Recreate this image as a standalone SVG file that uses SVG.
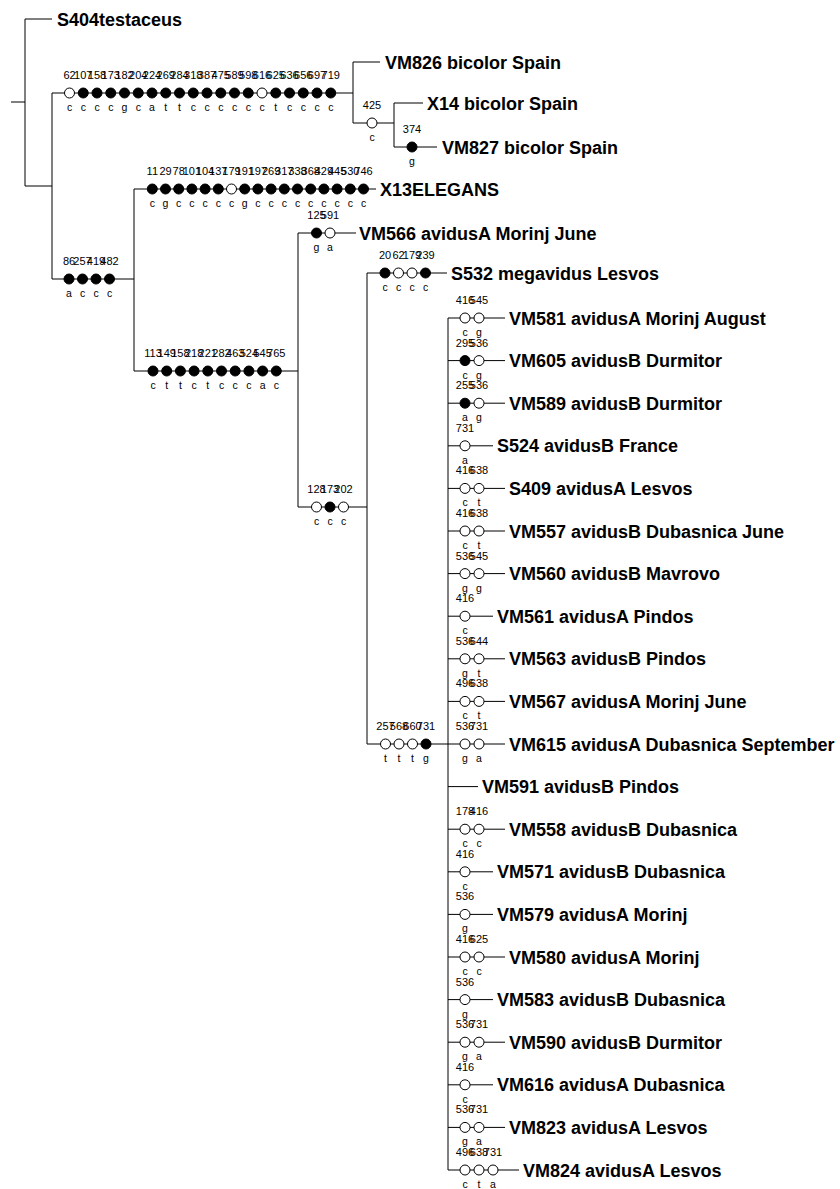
<svg xmlns="http://www.w3.org/2000/svg" width="840" height="1189" viewBox="0 0 840 1189">
<style>
.ln{stroke:#000;stroke-width:1;fill:none}
.o{fill:#fff;stroke:#000;stroke-width:1}
.f{fill:#000;stroke:#000;stroke-width:1}
.n{font-family:"Liberation Sans",Arial,sans-serif;font-size:11px;text-anchor:middle;fill:#000}
.s{font-family:"Liberation Sans",Arial,sans-serif;font-size:10.5px;text-anchor:middle;fill:#000}
.lb{font-family:"Liberation Sans",Arial,sans-serif;font-size:18px;font-weight:bold;fill:#000}
</style>
<rect width="840" height="1189" fill="#fff"/>
<g id="connectors" class="ln">
<path d="M11 102H25M25 19V186M25 19H52M25 186H52M52 93V279M52 93H353M353 62V123M353 62H380M353 123H394M394 103V147M394 103H423M394 147H437"/>
<path d="M52 279H134M134 189V371M134 189H376M134 371H298M298 233V507M298 233H356M298 507H367M367 273V744M367 273H447M367 744H448M448 318V1170"/>
<path d="M448 318H505M448 360.6H505M448 403.2H505M448 445.8H493M448 488.4H505M448 531H505M448 573.6H505M448 616.2H493M448 658.8H505M448 701.4H505M448 744H505M448 786.6H478M448 829.2H505M448 871.8H493M448 914.4H493M448 957H505M448 999.6H493M448 1042.2H505M448 1084.8H493M448 1127.4H505M448 1170H519"/>
</g>
<g id="S404testaceus"><text class="lb" x="57" y="25.5">S404testaceus</text></g>
<g id="br-bicolor">
<circle class="o" cx="69.5" cy="93" r="5"/><circle class="f" cx="83.25" cy="93" r="5"/><circle class="f" cx="97" cy="93" r="5"/><circle class="f" cx="110.75" cy="93" r="5"/><circle class="f" cx="124.5" cy="93" r="5"/><circle class="f" cx="138.25" cy="93" r="5"/><circle class="f" cx="152" cy="93" r="5"/><circle class="f" cx="165.75" cy="93" r="5"/><circle class="f" cx="179.5" cy="93" r="5"/><circle class="f" cx="193.25" cy="93" r="5"/><circle class="f" cx="207" cy="93" r="5"/><circle class="f" cx="220.75" cy="93" r="5"/><circle class="f" cx="234.5" cy="93" r="5"/><circle class="f" cx="248.25" cy="93" r="5"/><circle class="o" cx="262" cy="93" r="5"/><circle class="f" cx="275.75" cy="93" r="5"/><circle class="f" cx="289.5" cy="93" r="5"/><circle class="f" cx="303.25" cy="93" r="5"/><circle class="f" cx="317" cy="93" r="5"/><circle class="f" cx="330.75" cy="93" r="5"/>
<text class="n" y="79"><tspan x="69.5">62</tspan><tspan x="83.25">107</tspan><tspan x="97">158</tspan><tspan x="110.75">173</tspan><tspan x="124.5">182</tspan><tspan x="138.25">204</tspan><tspan x="152">224</tspan><tspan x="165.75">269</tspan><tspan x="179.5">284</tspan><tspan x="193.25">318</tspan><tspan x="207">387</tspan><tspan x="220.75">475</tspan><tspan x="234.5">589</tspan><tspan x="248.25">598</tspan><tspan x="262">616</tspan><tspan x="275.75">625</tspan><tspan x="289.5">636</tspan><tspan x="303.25">656</tspan><tspan x="317">697</tspan><tspan x="330.75">719</tspan></text>
<text class="s" y="111"><tspan x="69.5">c</tspan><tspan x="83.25">c</tspan><tspan x="97">c</tspan><tspan x="110.75">c</tspan><tspan x="124.5">g</tspan><tspan x="138.25">c</tspan><tspan x="152">a</tspan><tspan x="165.75">t</tspan><tspan x="179.5">t</tspan><tspan x="193.25">c</tspan><tspan x="207">c</tspan><tspan x="220.75">c</tspan><tspan x="234.5">c</tspan><tspan x="248.25">c</tspan><tspan x="262">c</tspan><tspan x="275.75">t</tspan><tspan x="289.5">c</tspan><tspan x="303.25">c</tspan><tspan x="317">c</tspan><tspan x="330.75">c</tspan></text>
</g>
<g id="VM826"><text class="lb" x="385" y="68.5">VM826 bicolor Spain</text></g>
<g id="br-425"><circle class="o" cx="372" cy="123" r="5"/><text class="n" x="372" y="109">425</text><text class="s" x="372" y="141">c</text></g>
<g id="X14"><text class="lb" x="427" y="109.5">X14 bicolor Spain</text></g>
<g id="VM827"><circle class="f" cx="412" cy="147" r="5"/><text class="n" x="412" y="133">374</text><text class="s" x="412" y="165">g</text><text class="lb" x="442" y="153.5">VM827 bicolor Spain</text></g>
<g id="X13ELEGANS">
<circle class="f" cx="152.3" cy="189" r="5"/><circle class="f" cx="165.5" cy="189" r="5"/><circle class="f" cx="178.7" cy="189" r="5"/><circle class="f" cx="191.9" cy="189" r="5"/><circle class="f" cx="205.1" cy="189" r="5"/><circle class="f" cx="218.3" cy="189" r="5"/><circle class="o" cx="231.5" cy="189" r="5"/><circle class="f" cx="244.7" cy="189" r="5"/><circle class="f" cx="257.9" cy="189" r="5"/><circle class="f" cx="271.1" cy="189" r="5"/><circle class="f" cx="284.3" cy="189" r="5"/><circle class="f" cx="297.5" cy="189" r="5"/><circle class="f" cx="310.7" cy="189" r="5"/><circle class="f" cx="323.9" cy="189" r="5"/><circle class="f" cx="337.1" cy="189" r="5"/><circle class="f" cx="350.3" cy="189" r="5"/><circle class="f" cx="363.5" cy="189" r="5"/>
<text class="n" y="175"><tspan x="152.3">11</tspan><tspan x="165.5">29</tspan><tspan x="178.7">78</tspan><tspan x="191.9">101</tspan><tspan x="205.1">104</tspan><tspan x="218.3">137</tspan><tspan x="231.5">179</tspan><tspan x="244.7">191</tspan><tspan x="257.9">197</tspan><tspan x="271.1">269</tspan><tspan x="284.3">317</tspan><tspan x="297.5">338</tspan><tspan x="310.7">368</tspan><tspan x="323.9">429</tspan><tspan x="337.1">445</tspan><tspan x="350.3">530</tspan><tspan x="363.5">746</tspan></text>
<text class="s" y="207"><tspan x="152.3">c</tspan><tspan x="165.5">g</tspan><tspan x="178.7">c</tspan><tspan x="191.9">c</tspan><tspan x="205.1">c</tspan><tspan x="218.3">c</tspan><tspan x="231.5">c</tspan><tspan x="244.7">g</tspan><tspan x="257.9">c</tspan><tspan x="271.1">c</tspan><tspan x="284.3">c</tspan><tspan x="297.5">c</tspan><tspan x="310.7">c</tspan><tspan x="323.9">c</tspan><tspan x="337.1">c</tspan><tspan x="350.3">c</tspan><tspan x="363.5">c</tspan></text>
<text class="lb" x="380" y="195.5">X13ELEGANS</text>
</g>
<g id="br-86">
<circle class="f" cx="69" cy="279" r="5"/><circle class="f" cx="82.5" cy="279" r="5"/><circle class="f" cx="96" cy="279" r="5"/><circle class="f" cx="109.5" cy="279" r="5"/>
<text class="n" y="265"><tspan x="69">86</tspan><tspan x="82.5">257</tspan><tspan x="96">419</tspan><tspan x="109.5">482</tspan></text>
<text class="s" y="297"><tspan x="69">a</tspan><tspan x="82.5">c</tspan><tspan x="96">c</tspan><tspan x="109.5">c</tspan></text>
</g>
<g id="br-113">
<circle class="f" cx="153" cy="371" r="5"/><circle class="f" cx="166.7" cy="371" r="5"/><circle class="f" cx="180.4" cy="371" r="5"/><circle class="f" cx="194.1" cy="371" r="5"/><circle class="f" cx="207.8" cy="371" r="5"/><circle class="f" cx="221.5" cy="371" r="5"/><circle class="f" cx="235.2" cy="371" r="5"/><circle class="f" cx="248.9" cy="371" r="5"/><circle class="f" cx="262.6" cy="371" r="5"/><circle class="f" cx="276.3" cy="371" r="5"/>
<text class="n" y="357"><tspan x="153">113</tspan><tspan x="166.7">149</tspan><tspan x="180.4">158</tspan><tspan x="194.1">218</tspan><tspan x="207.8">221</tspan><tspan x="221.5">282</tspan><tspan x="235.2">463</tspan><tspan x="248.9">524</tspan><tspan x="262.6">545</tspan><tspan x="276.3">765</tspan></text>
<text class="s" y="389"><tspan x="153">c</tspan><tspan x="166.7">t</tspan><tspan x="180.4">t</tspan><tspan x="194.1">c</tspan><tspan x="207.8">t</tspan><tspan x="221.5">c</tspan><tspan x="235.2">c</tspan><tspan x="248.9">c</tspan><tspan x="262.6">a</tspan><tspan x="276.3">c</tspan></text>
</g>
<g id="VM566">
<circle class="f" cx="316.5" cy="233" r="5"/><circle class="o" cx="330" cy="233" r="5"/>
<text class="n" y="219"><tspan x="316.5">125</tspan><tspan x="330">591</tspan></text>
<text class="s" y="251"><tspan x="316.5">g</tspan><tspan x="330">a</tspan></text>
<text class="lb" x="359" y="239.5">VM566 avidusA Morinj June</text>
</g>
<g id="br-128">
<circle class="o" cx="316.5" cy="507" r="5"/><circle class="f" cx="330" cy="507" r="5"/><circle class="o" cx="343.5" cy="507" r="5"/>
<text class="n" y="493"><tspan x="316.5">128</tspan><tspan x="330">173</tspan><tspan x="343.5">202</tspan></text>
<text class="s" y="525"><tspan x="316.5">c</tspan><tspan x="330">c</tspan><tspan x="343.5">c</tspan></text>
</g>
<g id="S532">
<circle class="f" cx="385" cy="273" r="5"/><circle class="o" cx="398.5" cy="273" r="5"/><circle class="o" cx="412" cy="273" r="5"/><circle class="f" cx="425.5" cy="273" r="5"/>
<text class="n" y="259"><tspan x="385">20</tspan><tspan x="398.5">62</tspan><tspan x="412">179</tspan><tspan x="425.5">239</tspan></text>
<text class="s" y="291"><tspan x="385">c</tspan><tspan x="398.5">c</tspan><tspan x="412">c</tspan><tspan x="425.5">c</tspan></text>
<text class="lb" x="451" y="279.5">S532 megavidus Lesvos</text>
</g>
<g id="br-257">
<circle class="o" cx="385.5" cy="744" r="5"/><circle class="o" cx="399" cy="744" r="5"/><circle class="o" cx="412.5" cy="744" r="5"/><circle class="f" cx="426" cy="744" r="5"/>
<text class="n" y="730"><tspan x="385.5">257</tspan><tspan x="399">568</tspan><tspan x="412.5">660</tspan><tspan x="426">731</tspan></text>
<text class="s" y="762"><tspan x="385.5">t</tspan><tspan x="399">t</tspan><tspan x="412.5">t</tspan><tspan x="426">g</tspan></text>
</g>
<g id="VM581"><circle class="o" cx="465" cy="318" r="5"/><circle class="o" cx="479" cy="318" r="5"/><text class="n" y="304"><tspan x="465">416</tspan><tspan x="479">545</tspan></text><text class="s" y="336"><tspan x="465">c</tspan><tspan x="479">g</tspan></text><text class="lb" x="509" y="324.5">VM581 avidusA Morinj August</text></g>
<g id="VM605"><circle class="f" cx="465" cy="360.6" r="5"/><circle class="o" cx="479" cy="360.6" r="5"/><text class="n" y="346.6"><tspan x="465">295</tspan><tspan x="479">536</tspan></text><text class="s" y="378.6"><tspan x="465">c</tspan><tspan x="479">g</tspan></text><text class="lb" x="509" y="367.1">VM605 avidusB Durmitor</text></g>
<g id="VM589"><circle class="f" cx="465" cy="403.2" r="5"/><circle class="o" cx="479" cy="403.2" r="5"/><text class="n" y="389.2"><tspan x="465">255</tspan><tspan x="479">536</tspan></text><text class="s" y="421.2"><tspan x="465">a</tspan><tspan x="479">g</tspan></text><text class="lb" x="509" y="409.7">VM589 avidusB Durmitor</text></g>
<g id="S524"><circle class="o" cx="465" cy="445.8" r="5"/><text class="n" x="465" y="431.8">731</text><text class="s" x="465" y="463.8">a</text><text class="lb" x="497" y="452.3">S524 avidusB France</text></g>
<g id="S409"><circle class="o" cx="465" cy="488.4" r="5"/><circle class="o" cx="479" cy="488.4" r="5"/><text class="n" y="474.4"><tspan x="465">416</tspan><tspan x="479">638</tspan></text><text class="s" y="506.4"><tspan x="465">c</tspan><tspan x="479">t</tspan></text><text class="lb" x="509" y="494.9">S409 avidusA Lesvos</text></g>
<g id="VM557"><circle class="o" cx="465" cy="531" r="5"/><circle class="o" cx="479" cy="531" r="5"/><text class="n" y="517"><tspan x="465">416</tspan><tspan x="479">638</tspan></text><text class="s" y="549"><tspan x="465">c</tspan><tspan x="479">t</tspan></text><text class="lb" x="509" y="537.5">VM557 avidusB Dubasnica June</text></g>
<g id="VM560"><circle class="o" cx="465" cy="573.6" r="5"/><circle class="o" cx="479" cy="573.6" r="5"/><text class="n" y="559.6"><tspan x="465">536</tspan><tspan x="479">545</tspan></text><text class="s" y="591.6"><tspan x="465">g</tspan><tspan x="479">g</tspan></text><text class="lb" x="509" y="580.1">VM560 avidusB Mavrovo</text></g>
<g id="VM561"><circle class="o" cx="465" cy="616.2" r="5"/><text class="n" x="465" y="602.2">416</text><text class="s" x="465" y="634.2">c</text><text class="lb" x="497" y="622.7">VM561 avidusA Pindos</text></g>
<g id="VM563"><circle class="o" cx="465" cy="658.8" r="5"/><circle class="o" cx="479" cy="658.8" r="5"/><text class="n" y="644.8"><tspan x="465">536</tspan><tspan x="479">644</tspan></text><text class="s" y="676.8"><tspan x="465">g</tspan><tspan x="479">t</tspan></text><text class="lb" x="509" y="665.3">VM563 avidusB Pindos</text></g>
<g id="VM567"><circle class="o" cx="465" cy="701.4" r="5"/><circle class="o" cx="479" cy="701.4" r="5"/><text class="n" y="687.4"><tspan x="465">496</tspan><tspan x="479">638</tspan></text><text class="s" y="719.4"><tspan x="465">c</tspan><tspan x="479">t</tspan></text><text class="lb" x="509" y="707.9">VM567 avidusA Morinj June</text></g>
<g id="VM615"><circle class="o" cx="465" cy="744" r="5"/><circle class="o" cx="479" cy="744" r="5"/><text class="n" y="730"><tspan x="465">536</tspan><tspan x="479">731</tspan></text><text class="s" y="762"><tspan x="465">g</tspan><tspan x="479">a</tspan></text><text class="lb" x="509" y="750.5">VM615 avidusA Dubasnica September</text></g>
<g id="VM591"><text class="lb" x="482" y="793.1">VM591 avidusB Pindos</text></g>
<g id="VM558"><circle class="o" cx="465" cy="829.2" r="5"/><circle class="o" cx="479" cy="829.2" r="5"/><text class="n" y="815.2"><tspan x="465">178</tspan><tspan x="479">416</tspan></text><text class="s" y="847.2"><tspan x="465">c</tspan><tspan x="479">c</tspan></text><text class="lb" x="509" y="835.7">VM558 avidusB Dubasnica</text></g>
<g id="VM571"><circle class="o" cx="465" cy="871.8" r="5"/><text class="n" x="465" y="857.8">416</text><text class="s" x="465" y="889.8">c</text><text class="lb" x="497" y="878.3">VM571 avidusB Dubasnica</text></g>
<g id="VM579"><circle class="o" cx="465" cy="914.4" r="5"/><text class="n" x="465" y="900.4">536</text><text class="s" x="465" y="932.4">g</text><text class="lb" x="497" y="920.9">VM579 avidusA Morinj</text></g>
<g id="VM580"><circle class="o" cx="465" cy="957" r="5"/><circle class="o" cx="479" cy="957" r="5"/><text class="n" y="943"><tspan x="465">416</tspan><tspan x="479">625</tspan></text><text class="s" y="975"><tspan x="465">c</tspan><tspan x="479">c</tspan></text><text class="lb" x="509" y="963.5">VM580 avidusA Morinj</text></g>
<g id="VM583"><circle class="o" cx="465" cy="999.6" r="5"/><text class="n" x="465" y="985.6">536</text><text class="s" x="465" y="1017.6">g</text><text class="lb" x="497" y="1006.1">VM583 avidusB Dubasnica</text></g>
<g id="VM590"><circle class="o" cx="465" cy="1042.2" r="5"/><circle class="o" cx="479" cy="1042.2" r="5"/><text class="n" y="1028.2"><tspan x="465">536</tspan><tspan x="479">731</tspan></text><text class="s" y="1060.2"><tspan x="465">g</tspan><tspan x="479">a</tspan></text><text class="lb" x="509" y="1048.7">VM590 avidusB Durmitor</text></g>
<g id="VM616"><circle class="o" cx="465" cy="1084.8" r="5"/><text class="n" x="465" y="1070.8">416</text><text class="s" x="465" y="1102.8">c</text><text class="lb" x="497" y="1091.3">VM616 avidusA Dubasnica</text></g>
<g id="VM823"><circle class="o" cx="465" cy="1127.4" r="5"/><circle class="o" cx="479" cy="1127.4" r="5"/><text class="n" y="1113.4"><tspan x="465">536</tspan><tspan x="479">731</tspan></text><text class="s" y="1145.4"><tspan x="465">g</tspan><tspan x="479">a</tspan></text><text class="lb" x="509" y="1133.9">VM823 avidusA Lesvos</text></g>
<g id="VM824"><circle class="o" cx="465" cy="1170" r="5"/><circle class="o" cx="479" cy="1170" r="5"/><circle class="o" cx="493" cy="1170" r="5"/><text class="n" y="1156"><tspan x="465">496</tspan><tspan x="479">638</tspan><tspan x="493">731</tspan></text><text class="s" y="1188"><tspan x="465">c</tspan><tspan x="479">t</tspan><tspan x="493">a</tspan></text><text class="lb" x="523" y="1176.5">VM824 avidusA Lesvos</text></g>
</svg>
